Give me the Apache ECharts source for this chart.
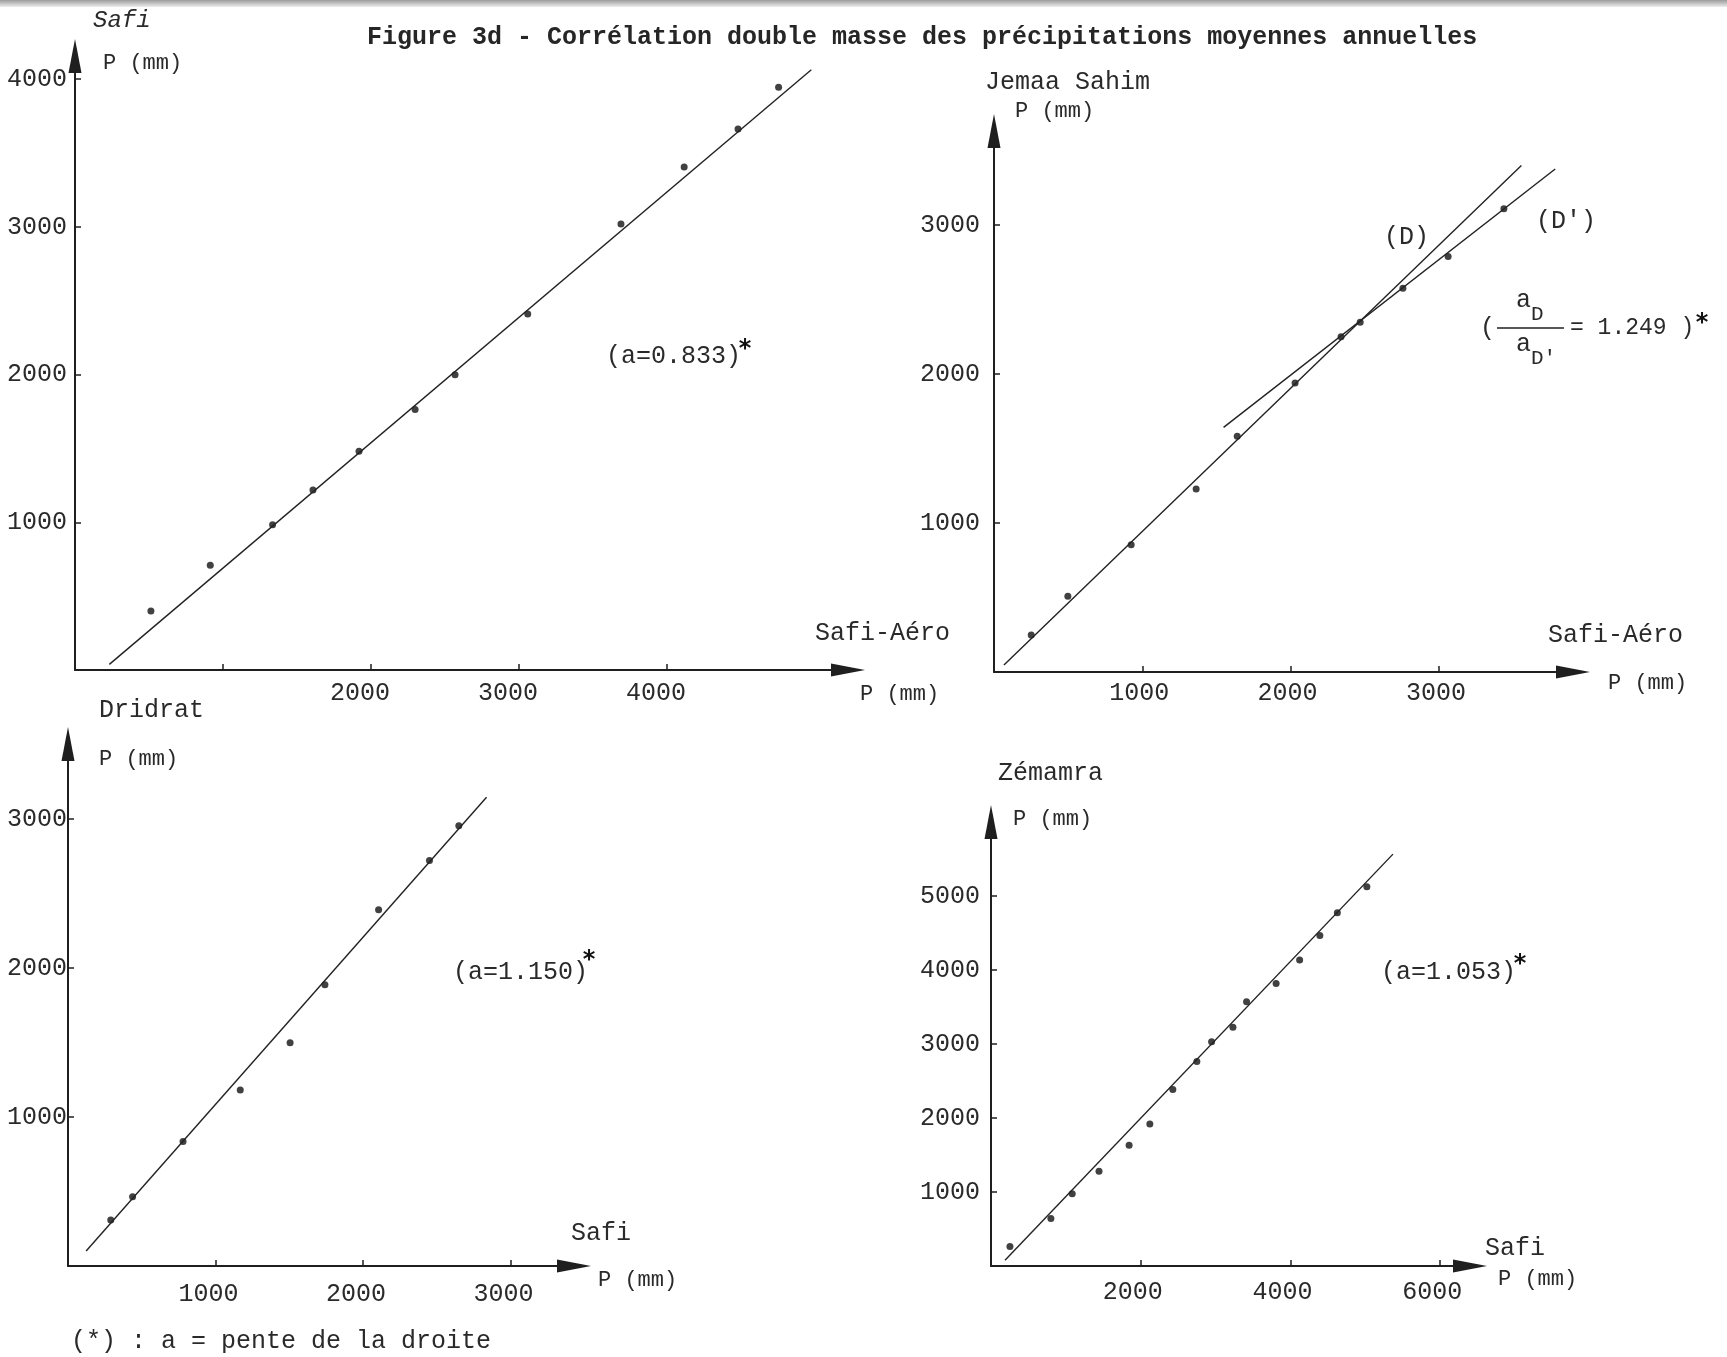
<!DOCTYPE html>
<html><head><meta charset="utf-8">
<script src="https://cdn.jsdelivr.net/npm/echarts@6/dist/echarts.min.js"></script>
<style>html,body{margin:0;padding:0;background:#fff}#c{width:1727px;height:1357px}</style>
</head><body><div id="c"></div>
<script>
// ---------- DATA (cumulative annual precipitation, mm) ----------
// Panel 1 : Safi (y) vs Safi-Aéro (x)
const p1X = [513, 914, 1335, 1608, 1919, 2298, 2568, 3059, 3689, 4116, 4480, 4754];
const p1Y = [399, 710, 983, 1219, 1481, 1763, 1999, 2410, 3019, 3405, 3663, 3946];
const p1LineX = [232, 4975];
const p1LineY = [38, 4064];
// Panel 2 : Jemaa Sahim (y) vs Safi-Aéro (x)
const p2X = [251, 498, 925, 1363, 1640, 2030, 2340, 2469, 2757, 3062, 3438];
const p2Y = [248, 508, 854, 1229, 1583, 1940, 2250, 2348, 2576, 2789, 3110];
const p2LineDX = [67, 3556];
const p2LineDY = [47, 3400];
const p2LineD2X = [1548, 3784];
const p2LineD2Y = [1642, 3376];
// Panel 3 : Dridrat (y) vs Safi (x)
const p3X = [290, 438, 780, 1168, 1506, 1742, 2106, 2451, 2650];
const p3Y = [309, 464, 835, 1181, 1499, 1887, 2390, 2722, 2955];
const p3LineX = [123, 2838];
const p3LineY = [101, 3146];
// Panel 4 : Zémamra (y) vs Safi (x)
const p4X = [253, 800, 1085, 1443, 1845, 2122, 2429, 2750, 2947, 3232, 3414, 3809, 4123, 4393, 4627, 5021];
const p4Y = [264, 641, 976, 1280, 1631, 1918, 2385, 2764, 3029, 3226, 3572, 3816, 4135, 4465, 4773, 5124];
const p4LineX = [187, 5370];
const p4LineY = [77, 5566];

// Axis extents (arrow ends) and tick values / tick labels
const p1XMax = 5223, p1YMax = 4157;
const p2XMax = 3904, p2YMax = 3631;
const p3XMax = 3431, p3YMax = 3503;
const p4XMax = 6399, p4YMax = 6000;
const p1XTicks = [1000, 2000, 3000, 4000], p1XLabels = [2000, 3000, 4000];
const p1YTicks = [1000, 2000, 3000, 4000], p1YLabels = [1000, 2000, 3000, 4000];
const p2XTicks = [1000, 2000, 3000], p2XLabels = [1000, 2000, 3000];
const p2YTicks = [1000, 2000, 3000], p2YLabels = [1000, 2000, 3000];
const p3XTicks = [1000, 2000, 3000], p3XLabels = [1000, 2000, 3000];
const p3YTicks = [1000, 2000, 3000], p3YLabels = [1000, 2000, 3000];
const p4XTicks = [2000, 4000, 6000], p4XLabels = [2000, 4000, 6000];
const p4YTicks = [1000, 2000, 3000, 4000, 5000], p4YLabels = [1000, 2000, 3000, 4000, 5000];

const titleText = 'Figure 3d - Corrélation double masse des précipitations moyennes annuelles';

// ---------- STYLE / LAYOUT ----------
const INK = '#1f1f1f';
const MONO = '"Liberation Mono", "DejaVu Sans Mono", monospace';
const zip = (a, b) => a.map((v, i) => [v, b[i]]);

const panels = [
  {grid: {left: 75, top: 56, width: 773, height: 614}, xMax: p1XMax, yMax: p1YMax,
   xT: p1XTicks, xL: p1XLabels, yT: p1YTicks, yL: p1YLabels,
   xm: 11, xs: 22, ym: 8, ys: 16},
  {grid: {left: 994, top: 131, width: 579, height: 541}, xMax: p2XMax, yMax: p2YMax,
   xT: p2XTicks, xL: p2XLabels, yT: p2YTicks, yL: p2YLabels,
   xm: 9, xs: 6, ym: 14, ys: 12},
  {grid: {left: 68, top: 744, width: 506, height: 522}, xMax: p3XMax, yMax: p3YMax,
   xT: p3XTicks, xL: p3XLabels, yT: p3YTicks, yL: p3YLabels,
   xm: 16, xs: 14, ym: 1, ys: 18},
  {grid: {left: 991, top: 822, width: 479, height: 444}, xMax: p4XMax, yMax: p4YMax,
   xT: p4XTicks, xL: p4XLabels, yT: p4YTicks, yL: p4YLabels,
   xm: 14, xs: 16, ym: 11, ys: 4}
];

function axis(idx, max, ticks, labels, margin, shift, isX) {
  return {
    type: 'value', gridIndex: idx, min: 0, max: max,
    splitLine: {show: false},
    axisLine: {show: true, onZero: false, symbol: ['none', 'triangle'], symbolSize: [13, 34],
      lineStyle: {color: INK, width: 2}},
    axisTick: {show: true, inside: true, length: 6, customValues: ticks,
      lineStyle: {color: INK, width: 1.5}},
    axisLabel: {show: true, customValues: labels, margin: margin,
      formatter: v => String(v),
      color: '#2a2a2a', fontFamily: MONO, fontSize: 25,
      padding: isX ? [0, shift, 0, 0] : [0, 0, shift, 0]}
  };
}

const grids = panels.map(p => Object.assign({outerBoundsMode: 'none', containLabel: false}, p.grid));
const xAxes = panels.map((p, i) => axis(i, p.xMax, p.xT, p.xL, p.xm, p.xs, true));
const yAxes = panels.map((p, i) => axis(i, p.yMax, p.yT, p.yL, p.ym, p.ys, false));

function pts(i, xs, ys) {
  return {type: 'scatter', xAxisIndex: i, yAxisIndex: i, data: zip(xs, ys),
    symbolSize: 7, itemStyle: {color: '#111'}, silent: true};
}
function fit(i, xs, ys) {
  return {type: 'line', xAxisIndex: i, yAxisIndex: i, data: zip(xs, ys),
    symbol: 'none', lineStyle: {color: '#222', width: 1.4}, silent: true};
}

function txt(text, x, y, size, extra) {
  return {type: 'text', silent: true, style: Object.assign({
    text: text, x: x, y: y, fill: '#2a2a2a',
    font: (size || 25) + 'px ' + MONO,
    textAlign: 'left', textVerticalAlign: 'middle', align: 'left', verticalAlign: 'middle'
  }, extra || {})};
}
function star(x, y) {
  return txt('*', x, y, 24, {font: 'bold 24px "DejaVu Sans"', textAlign: 'center', align: 'center', fill: '#111'});
}

const graphics = [
  {type: 'rect', silent: true, shape: {x: 0, y: 0, width: 1727, height: 7},
   style: {fill: new echarts.graphic.LinearGradient(0, 0, 0, 1, [{offset: 0, color: '#9c9c9c'}, {offset: 1, color: '#ececec'}])}},
  // panel 1
  txt('Safi', 93, 21, 24, {font: 'italic 24px ' + MONO}),
  txt('P (mm)', 103, 63, 22),
  txt('Safi-Aéro', 815, 633),
  txt('P (mm)', 860, 694, 22),
  txt('(a=0.833)', 606, 356),
  star(745, 350),
  // panel 2
  txt('Jemaa Sahim', 985, 82),
  txt('P (mm)', 1015, 111, 22),
  txt('Safi-Aéro', 1548, 635),
  txt('P (mm)', 1608, 683, 22),
  txt('(D)', 1384, 237),
  txt("(D')", 1536, 221),
  txt('(', 1480, 328),
  txt('a', 1516, 300),
  txt('D', 1531, 314, 21),
  {type: 'line', silent: true, shape: {x1: 1497, y1: 328, x2: 1564, y2: 328}, style: {stroke: INK, lineWidth: 1.3}},
  txt('a', 1516, 344),
  txt("D'", 1531, 358, 21),
  txt('= 1.249 )', 1570, 328, 23),
  star(1702, 324),
  // panel 3
  txt('Dridrat', 99, 710),
  txt('P (mm)', 99, 759, 22),
  txt('Safi', 571, 1233),
  txt('P (mm)', 598, 1280, 22),
  txt('(a=1.150)', 453, 972),
  star(589, 961),
  txt('(*) : a = pente de la droite', 71, 1341),
  // panel 4
  txt('Zémamra', 998, 773),
  txt('P (mm)', 1013, 819, 22),
  txt('Safi', 1485, 1248),
  txt('P (mm)', 1498, 1279, 22),
  txt('(a=1.053)', 1381, 972),
  star(1520, 965)
];

const chart = echarts.init(document.getElementById('c'), null, {renderer: 'canvas'});
chart.setOption({
  backgroundColor: '#ffffff',
  animation: false,
  title: {text: titleText, left: 362, top: 20,
    textStyle: {fontFamily: MONO, fontSize: 25, fontWeight: 'bold', color: '#262626'}},
  grid: grids,
  xAxis: xAxes,
  yAxis: yAxes,
  series: [
    pts(0, p1X, p1Y), fit(0, p1LineX, p1LineY),
    pts(1, p2X, p2Y), fit(1, p2LineDX, p2LineDY), fit(1, p2LineD2X, p2LineD2Y),
    pts(2, p3X, p3Y), fit(2, p3LineX, p3LineY),
    pts(3, p4X, p4Y), fit(3, p4LineX, p4LineY)
  ],
  graphic: graphics
});
</script>
</body></html>
